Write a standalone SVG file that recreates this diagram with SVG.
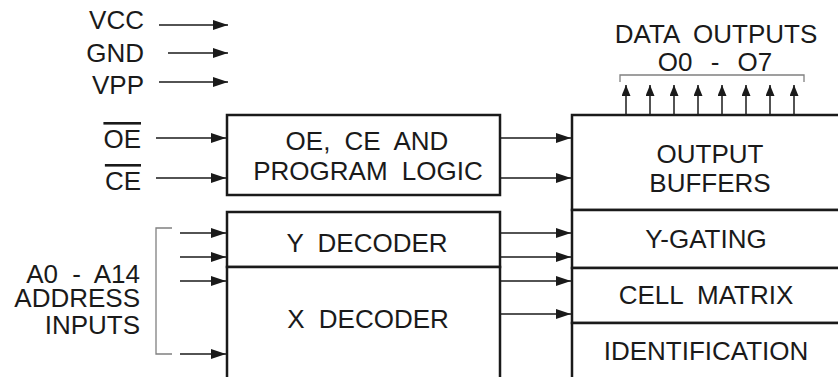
<svg xmlns="http://www.w3.org/2000/svg" width="838" height="377" viewBox="0 0 838 377">
<style>
text{font-family:"Liberation Sans",Arial,sans-serif;font-size:26px;fill:#1a1a1a;word-spacing:7px}
.m{text-anchor:middle}
.e{text-anchor:end}
.box{fill:#fff;stroke:#1a1a1a;stroke-width:2.5}
.c{stroke:#1a1a1a;stroke-width:1.6;fill:none;marker-end:url(#ah)}
.u{stroke:#1a1a1a;stroke-width:1.5;fill:none;marker-end:url(#ahs)}
.br{stroke:#808080;stroke-width:1.3;fill:none}
.ol{text-decoration:overline}
</style>
<defs>
<marker id="ah" markerUnits="userSpaceOnUse" markerWidth="15" markerHeight="10" refX="15" refY="5" orient="auto">
<path d="M0,0 L15,5 L0,10 z" fill="#1a1a1a"/>
</marker>
<marker id="ahs" markerUnits="userSpaceOnUse" markerWidth="11" markerHeight="9" refX="11" refY="4.5" orient="auto">
<path d="M0,0 L11,4.5 L0,9 z" fill="#1a1a1a"/>
</marker>
</defs>
<rect width="838" height="377" fill="#fff"/>
<g id="vcc"><text class="e" x="144" y="28.5">VCC</text></g>
<g id="gnd"><text class="e" x="144" y="61.5">GND</text></g>
<g id="vpp"><text class="e" x="144" y="94">VPP</text></g>
<g id="oe"><text class="e ol" x="141" y="148">OE</text></g>
<g id="ce"><text class="e ol" x="141" y="190">CE</text></g>
<g id="address">
<path class="br" d="M172,228 H156 V354 H172"/>
<text class="e" x="140" y="283">A0 - A14</text>
<text class="e" x="140" y="307">ADDRESS</text>
<text class="e" x="140" y="334">INPUTS</text>
</g>
<g id="data-outputs">
<path class="br" d="M620,82 V75 H804 V82"/>
<text class="m" x="716" y="43">DATA OUTPUTS</text>
<text class="m" x="715" y="71" style="word-spacing:11px">O0 - O7</text>
</g>
<g id="logic">
<rect class="box" x="227" y="115" width="273" height="80"/>
<text class="m" x="367" y="150">OE, CE AND</text>
<text class="m" x="368" y="180">PROGRAM LOGIC</text>
</g>
<g id="y-decoder">
<rect class="box" x="227" y="212" width="273" height="55"/>
<text class="m" x="367" y="252">Y DECODER</text>
</g>
<g id="x-decoder">
<rect class="box" x="227" y="267" width="273" height="130"/>
<text class="m" x="368" y="328">X DECODER</text>
</g>
<g id="output-buffers">
<rect class="box" x="572" y="115" width="280" height="95"/>
<text class="m" x="710" y="163">OUTPUT</text>
<text class="m" x="710" y="192">BUFFERS</text>
</g>
<g id="y-gating">
<rect class="box" x="572" y="210" width="280" height="58"/>
<text class="m" x="706" y="248">Y-GATING</text>
</g>
<g id="cell-matrix">
<rect class="box" x="572" y="268" width="280" height="55"/>
<text class="m" x="706" y="304">CELL MATRIX</text>
</g>
<g id="identification">
<rect class="box" x="572" y="323" width="280" height="70"/>
<text class="m" x="706" y="360">IDENTIFICATION</text>
</g>
<g id="connectors">
<line class="c" x1="159" y1="25" x2="228" y2="25"/>
<line class="c" x1="168" y1="53" x2="228" y2="53"/>
<line class="c" x1="159" y1="82" x2="228" y2="82"/>
<line class="c" x1="156" y1="138" x2="226" y2="138"/>
<line class="c" x1="156" y1="178" x2="226" y2="178"/>
<line class="c" x1="180" y1="233" x2="226" y2="233"/>
<line class="c" x1="180" y1="257" x2="226" y2="257"/>
<line class="c" x1="180" y1="281" x2="226" y2="281"/>
<line class="c" x1="180" y1="354" x2="226" y2="354"/>
<line class="c" x1="501" y1="138" x2="571" y2="138"/>
<line class="c" x1="501" y1="178" x2="571" y2="178"/>
<line class="c" x1="501" y1="233" x2="571" y2="233"/>
<line class="c" x1="501" y1="257" x2="571" y2="257"/>
<line class="c" x1="501" y1="281" x2="571" y2="281"/>
<line class="c" x1="501" y1="314" x2="571" y2="314"/>
<line class="u" x1="626" y1="114" x2="626" y2="85"/>
<line class="u" x1="650" y1="114" x2="650" y2="85"/>
<line class="u" x1="674" y1="114" x2="674" y2="85"/>
<line class="u" x1="698" y1="114" x2="698" y2="85"/>
<line class="u" x1="722" y1="114" x2="722" y2="85"/>
<line class="u" x1="746" y1="114" x2="746" y2="85"/>
<line class="u" x1="770" y1="114" x2="770" y2="85"/>
<line class="u" x1="794" y1="114" x2="794" y2="85"/>
</g>
</svg>
